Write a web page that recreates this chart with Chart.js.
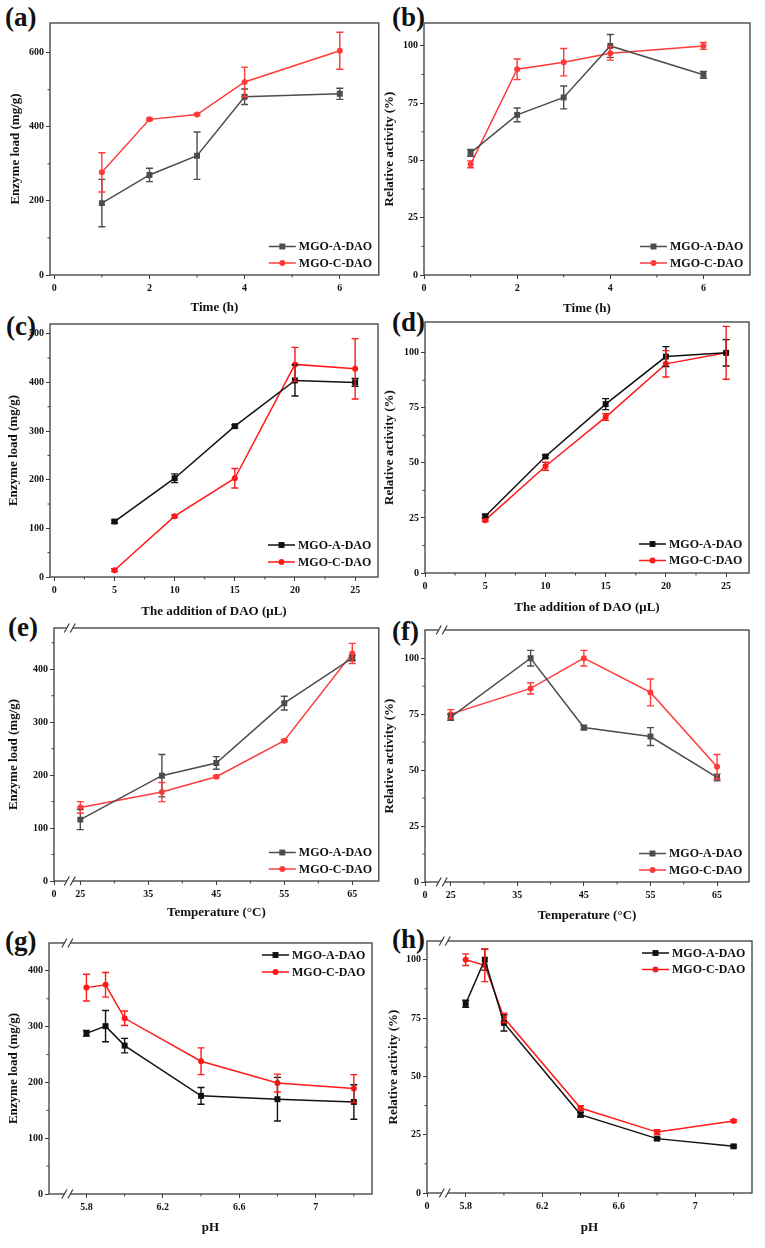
<!DOCTYPE html>
<html>
<head>
<meta charset="utf-8">
<script src="https://cdn.jsdelivr.net/npm/chart.js@4.4.1/dist/chart.umd.min.js"></script>
<style>
  body { margin: 0; background: #fff; width: 765px; height: 1248px; position: relative; overflow: hidden; }
  canvas { position: absolute; }
  .tag { position: absolute; font: bold 27px 'Liberation Serif', 'Times New Roman', serif; line-height: 1; color: #111; }
</style>
</head>
<body>
<div class="tag" style="left:5px;top:4px">(a)</div>
<div class="tag" style="left:392px;top:4px">(b)</div>
<div class="tag" style="left:6px;top:313px">(c)</div>
<div class="tag" style="left:392px;top:309px">(d)</div>
<div class="tag" style="left:8px;top:614px">(e)</div>
<div class="tag" style="left:392px;top:618px">(f)</div>
<div class="tag" style="left:5px;top:928px">(g)</div>
<div class="tag" style="left:392px;top:926px">(h)</div>
<script>
const SERIF = "'Liberation Serif', 'Times New Roman', serif";
const FRAME = '#3c3c3c';

// (a)/(b) time
const timeH = [1, 2, 3, 4, 6];
const loadTimeA = [194, 270, 322, 481, 489];
const loadTimeAErr = [64, 18, 64, 21, 15];
const loadTimeC = [277, 420, 433, 521, 605];
const loadTimeCErr = [53, 3, 3, 40, 50];
const actTimeA = [53.3, 69.9, 77.5, 100, 87.4];
const actTimeAErr = [1.5, 3, 5, 5, 1.5];
const actTimeC = [48.3, 89.8, 92.9, 96.8, 100];
const actTimeCErr = [1.5, 4.5, 6, 3, 1.5];

// (c)/(d) DAO addition
const daoUL = [5, 10, 15, 20, 25];
const loadDaoA = [114, 203, 310, 404, 400];
const loadDaoAErr = [3, 9, 3, 32, 8];
const loadDaoC = [14, 125, 203, 437, 428];
const loadDaoCErr = [3, 3, 20, 35, 62];
const actDaoA = [25.8, 52.9, 76.7, 98.3, 100];
const actDaoAErr = [0.8, 0.6, 2.5, 4.5, 6];
const actDaoC = [24.0, 48.5, 70.8, 95, 100];
const actDaoCErr = [0.6, 1.8, 1.5, 6, 12];

// (e)/(f) temperature
const tempC = [25, 37, 45, 55, 65];
const loadTempA = [116, 199, 223, 336, 421];
const loadTempAErr = [19, 40, 12, 13, 5];
const loadTempC = [139, 168, 197, 265, 430];
const loadTempCErr = [11, 18, 2, 2, 19];
const actTempA = [73.7, 100, 69, 65, 46.7];
const actTempAErr = [1.5, 3.5, 1, 4, 1.5];
const actTempC = [75, 86.5, 100, 84.7, 51.5];
const actTempCErr = [2, 2.5, 3.5, 6, 5.5];

// (g)/(h) pH
const pHs = [5.8, 5.9, 6.0, 6.4, 6.8, 7.2];
const loadPhA = [288, 301, 266, 176, 170, 165];
const loadPhAErr = [5, 28, 13, 15, 39, 31];
const loadPhC = [370, 375, 315, 238, 199, 189];
const loadPhCErr = [24, 22, 13, 24, 16, 25];
const actPhA = [81.1, 100, 72.9, 33.6, 23.3, 20];
const actPhAErr = [1.5, 4.5, 3.5, 1, 0.5, 0.5];
const actPhC = [100, 97.6, 75.1, 36.4, 26.1, 30.9];
const actPhCErr = [2.5, 7, 2, 1, 1, 0.5];

// tick values
const timeTicks = [0, 2, 4, 6], timeMinor = [1, 3, 5];
const daoTicks = [0, 5, 10, 15, 20, 25], daoMinor = [2.5, 7.5, 12.5, 17.5, 22.5];
const tempTicks = [25, 35, 45, 55, 65], tempMinor = [30, 40, 50, 60];
const phTicks = [5.8, 6.2, 6.6, 7], phMinor = [6.0, 6.4, 6.8, 7.2];
const load200Ticks = [0, 200, 400, 600], load200Minor = [100, 300, 500];
const load100Ticks = [0, 100, 200, 300, 400, 500], load100Minor = [50, 150, 250, 350, 450];
const pctTicks = [0, 25, 50, 75, 100], pctMinor = [12.5, 37.5, 62.5, 87.5];

const seriesNames = ['MGO-A-DAO', 'MGO-C-DAO'];
const loadTitle = 'Enzyme load (mg/g)';
const actTitle = 'Relative activity (%)';

const panels = [
  { x: timeH, a: loadTimeA, aErr: loadTimeAErr, c: loadTimeC, cErr: loadTimeCErr, xMin: -0.09, xMax: 6.82, yMax: 680,
    xTicks: timeTicks, xMinor: timeMinor, yTicks: load200Ticks, yMinor: load200Minor, xTitle: 'Time (h)', yTitle: loadTitle, grey: true },
  { x: timeH, a: actTimeA, aErr: actTimeAErr, c: actTimeC, cErr: actTimeCErr, xMin: 0, xMax: 7, yMax: 110,
    xTicks: timeTicks, xMinor: timeMinor, yTicks: pctTicks, yMinor: pctMinor, xTitle: 'Time (h)', yTitle: actTitle, grey: true },
  { x: daoUL, a: loadDaoA, aErr: loadDaoAErr, c: loadDaoC, cErr: loadDaoCErr, xMin: -0.36, xMax: 26.9, yMax: 520,
    xTicks: daoTicks, xMinor: daoMinor, yTicks: load100Ticks, yMinor: load100Minor, xTitle: 'The addition of DAO (\u03bcL)', yTitle: loadTitle, grey: false },
  { x: daoUL, a: actDaoA, aErr: actDaoAErr, c: actDaoC, cErr: actDaoCErr, xMin: 0, xMax: 26.9, yMax: 114,
    xTicks: daoTicks, xMinor: daoMinor, yTicks: pctTicks, yMinor: pctMinor, xTitle: 'The addition of DAO (\u03bcL)', yTitle: actTitle, grey: false },
  { x: tempC, a: loadTempA, aErr: loadTempAErr, c: loadTempC, cErr: loadTempCErr, xMin: 21.13, xMax: 68.9, yMax: 478,
    xTicks: tempTicks, xMinor: tempMinor, yTicks: load100Ticks, yMinor: load100Minor, xTitle: 'Temperature (\u00b0C)', yTitle: loadTitle, grey: true, zeroAtMin: true },
  { x: tempC, a: actTempA, aErr: actTempAErr, c: actTempC, cErr: actTempCErr, xMin: 21.14, xMax: 69.8, yMax: 112.6,
    xTicks: tempTicks, xMinor: tempMinor, yTicks: pctTicks, yMinor: pctMinor, xTitle: 'Temperature (\u00b0C)', yTitle: actTitle, grey: true, zeroAtMin: true },
  { x: pHs, a: loadPhA, aErr: loadPhAErr, c: loadPhC, cErr: loadPhCErr, xMin: 5.604, xMax: 7.295, yMax: 450,
    xTicks: phTicks, xMinor: phMinor, yTicks: load100Ticks, yMinor: load100Minor, xTitle: 'pH', yTitle: loadTitle, grey: false },
  { x: pHs, a: actPhA, aErr: actPhAErr, c: actPhC, cErr: actPhCErr, xMin: 5.598, xMax: 7.296, yMax: 108,
    xTicks: phTicks, xMinor: phMinor, yTicks: pctTicks, yMinor: pctMinor, xTitle: 'pH', yTitle: actTitle, grey: false, zeroAtMin: true }
];

// where each panel sits on the page
const layouts = [
  { cell: [0, 0, 383, 318],     area: [50, 23, 380, 275],     yTitleX: 16,  xTitleY: 308, legend: ['br', -28.5, -12] },
  { cell: [380, 0, 385, 318],   area: [424, 23, 750, 275],    yTitleX: 390, xTitleY: 309, legend: ['br', -28.5, -12] },
  { cell: [0, 312, 383, 310],   area: [50, 324, 378, 577],    yTitleX: 14,  xTitleY: 612, legend: ['br', -32, -15] },
  { cell: [380, 312, 385, 310], area: [425, 322, 749, 573],   yTitleX: 390, xTitleY: 608, legend: ['br', -29, -12.5] },
  { cell: [0, 618, 383, 312],   area: [54, 628, 380, 881],    yTitleX: 14,  xTitleY: 913, legend: ['br', -28.5, -12], breakFrac: 0.6 },
  { cell: [380, 618, 385, 312], area: [425, 630, 749, 882],   yTitleX: 390, xTitleY: 916, legend: ['br', -28.5, -12], breakFrac: 0.65 },
  { cell: [0, 928, 383, 320],   area: [49, 943, 372, 1194],   yTitleX: 14,  xTitleY: 1228, legend: ['tr', 12, 29], breakFrac: 0.49 },
  { cell: [380, 928, 385, 320], area: [427, 941, 752, 1193],  yTitleX: 394, xTitleY: 1228, legend: ['tr', 12, 28.5], breakFrac: 0.46 }
];

function drawMarker(ctx, style, x, y, r, color) {
  ctx.fillStyle = color;
  ctx.beginPath();
  if (style === 'rect') {
    const s = r * Math.SQRT1_2;
    ctx.rect(x - s, y - s, 2 * s, 2 * s);
  } else {
    ctx.arc(x, y, r, 0, Math.PI * 2);
  }
  ctx.fill();
}

const panelDecor = {
  id: 'panelDecor',
  afterDatasetsDraw(chart) {
    // error bars
    const ctx = chart.ctx;
    const ys = chart.scales.y;
    chart.data.datasets.forEach((ds, di) => {
      const meta = chart.getDatasetMeta(di);
      ctx.save();
      ctx.strokeStyle = ds.borderColor;
      ctx.lineWidth = 1.4;
      meta.data.forEach((pt, i) => {
        const v = ds.data[i].y, e = ds.err[i];
        const top = ys.getPixelForValue(v + e), bot = ys.getPixelForValue(v - e);
        ctx.beginPath();
        ctx.moveTo(pt.x, top); ctx.lineTo(pt.x, bot);
        ctx.moveTo(pt.x - 3.5, top); ctx.lineTo(pt.x + 3.5, top);
        ctx.moveTo(pt.x - 3.5, bot); ctx.lineTo(pt.x + 3.5, bot);
        ctx.stroke();
      });
      ctx.restore();
    });
  },
  afterDraw(chart, args, opts) {
    const ctx = chart.ctx;
    const {left, top, right, bottom} = chart.chartArea;
    const xs = chart.scales.x, ys = chart.scales.y;
    ctx.save();
    ctx.strokeStyle = FRAME;
    ctx.lineWidth = 1.3;
    ctx.strokeRect(left, top, right - left, bottom - top);
    // minor ticks
    ctx.lineWidth = 1;
    ctx.beginPath();
    opts.xMinor.filter(v => v > xs.min && v < xs.max).forEach(v => {
      const px = xs.getPixelForValue(v);
      ctx.moveTo(px, bottom); ctx.lineTo(px, bottom + 2.5);
    });
    opts.yMinor.filter(v => v > ys.min && v < ys.max).forEach(v => {
      const py = ys.getPixelForValue(v);
      ctx.moveTo(left, py); ctx.lineTo(left - 2.5, py);
    });
    ctx.stroke();
    // axis break marks
    if (opts.breakFrac) {
      const bx = xs.getPixelForValue(xs.min + opts.breakFrac * (opts.firstTick - xs.min));
      [top, bottom].forEach(yy => {
        ctx.fillStyle = '#fff';
        ctx.fillRect(bx - 3, yy - 1.5, 6, 3);
        ctx.strokeStyle = FRAME;
        ctx.lineWidth = 1.2;
        ctx.beginPath();
        [-3, 3].forEach(o => {
          ctx.moveTo(bx + o - 2.5, yy + 4.5);
          ctx.lineTo(bx + o + 2.5, yy - 4.5);
        });
        ctx.stroke();
      });
    }
    // legend
    const [corner, r1, r2] = opts.legend;
    const base = corner === 'br' ? bottom : top;
    ctx.font = 'bold 12px ' + SERIF;
    ctx.textBaseline = 'middle';
    ctx.textAlign = 'left';
    chart.data.datasets.forEach((ds, i) => {
      const yy = base + (i === 0 ? r1 : r2);
      ctx.strokeStyle = ds.borderColor;
      ctx.lineWidth = 1.5;
      ctx.beginPath();
      ctx.moveTo(right - 110, yy); ctx.lineTo(right - 83, yy);
      ctx.stroke();
      drawMarker(ctx, ds.pointStyle, right - 96.5, yy, ds.pointRadius, ds.borderColor);
      ctx.fillStyle = '#111';
      ctx.fillText(ds.label, right - 80, yy + 0.5);
    });
    ctx.restore();
  }
};

function makePanel(p, L) {
  const [cx, cy, cw, ch] = L.cell;
  const [al, at, ar, ab] = L.area;
  const cv = document.createElement('canvas');
  cv.width = cw; cv.height = ch;
  cv.style.left = cx + 'px'; cv.style.top = cy + 'px';
  cv.style.width = cw + 'px'; cv.style.height = ch + 'px';
  document.body.appendChild(cv);

  const colA = p.grey ? '#4d4d4d' : '#111111';
  const colC = p.grey ? '#ff3b3b' : '#ff1a1a';
  const titleLH = 13 * 1.2;
  const tickFont = { family: SERIF, size: 10, weight: 'bold' };
  const titleFont = { family: SERIF, size: 13, weight: 'bold', lineHeight: 1.2 };
  const xTickVals = (p.zeroAtMin ? [p.xMin] : []).concat(p.xTicks.filter(v => v >= p.xMin && v <= p.xMax));
  const yTickVals = p.yTicks.filter(v => v <= p.yMax);

  return new Chart(cv, {
    type: 'line',
    data: {
      datasets: [
        { label: seriesNames[0], data: p.x.map((v, i) => ({ x: v, y: p.a[i] })), err: p.aErr,
          borderColor: colA, backgroundColor: colA, pointBackgroundColor: colA, pointStyle: 'rect',
          pointRadius: 4.2, pointBorderWidth: 0, borderWidth: 1.5, fill: false, tension: 0 },
        { label: seriesNames[1], data: p.x.map((v, i) => ({ x: v, y: p.c[i] })), err: p.cErr,
          borderColor: colC, backgroundColor: colC, pointBackgroundColor: colC, pointStyle: 'circle',
          pointRadius: 3, pointBorderWidth: 0, borderWidth: 1.5, fill: false, tension: 0 }
      ]
    },
    options: {
      responsive: false,
      animation: false,
      devicePixelRatio: 1,
      layout: { padding: { left: 0, top: at - cy, right: cx + cw - ar, bottom: 0 } },
      plugins: {
        legend: { display: false },
        tooltip: { enabled: false },
        panelDecor: { xMinor: p.xMinor, yMinor: p.yMinor, breakFrac: L.breakFrac, firstTick: p.xTicks[0], legend: L.legend }
      },
      scales: {
        x: {
          type: 'linear', min: p.xMin, max: p.xMax,
          afterBuildTicks: s => { s.ticks = xTickVals.map(v => ({ value: v })); },
          afterFit: s => { s.height = cy + ch - ab; },
          ticks: { autoSkip: false, maxRotation: 0, padding: 3, color: '#111', font: tickFont,
                   callback: v => (p.zeroAtMin && v === p.xMin) ? '0' : String(v) },
          grid: { drawOnChartArea: false, drawTicks: true, tickLength: 4, color: FRAME, lineWidth: 1 },
          border: { display: false },
          title: { display: true, text: p.xTitle, color: '#111', font: titleFont,
                   padding: { top: 0, bottom: Math.max(0, cy + ch - L.xTitleY - titleLH / 2) } }
        },
        y: {
          type: 'linear', min: 0, max: p.yMax,
          afterBuildTicks: s => { s.ticks = yTickVals.map(v => ({ value: v })); },
          afterFit: s => { s.width = al - cx; },
          ticks: { autoSkip: false, padding: 2, color: '#111', font: tickFont, callback: v => String(v) },
          grid: { drawOnChartArea: false, drawTicks: true, tickLength: 4, color: FRAME, lineWidth: 1 },
          border: { display: false },
          title: { display: true, text: p.yTitle, color: '#111', font: titleFont,
                   padding: { top: Math.max(0, L.yTitleX - cx - titleLH / 2), bottom: 0 } }
        }
      }
    },
    plugins: [panelDecor]
  });
}

const charts = panels.map((p, i) => makePanel(p, layouts[i]));
</script>
</body>
</html>
